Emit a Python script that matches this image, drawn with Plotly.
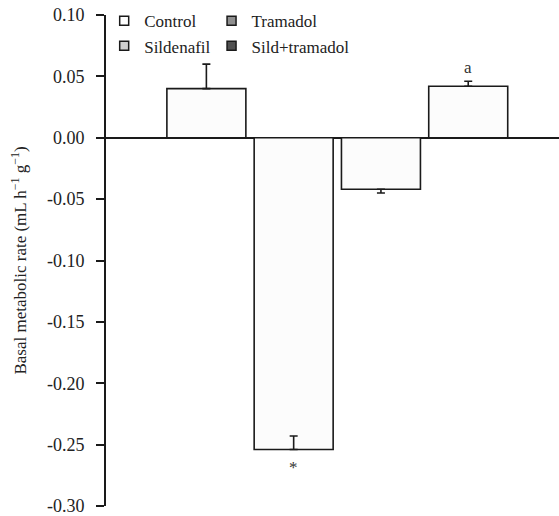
import plotly.graph_objects as go

# Group means and SEM of basal metabolic rate
groups = ["Control", "Sildenafil", "Tramadol", "Sild+tramadol"]
means = [0.040, -0.254, -0.042, 0.042]
err_plus = [0.020, 0.011, 0.000, 0.004]
err_minus = [0.000, 0.000, 0.003, 0.000]
legend_colors = ["#ffffff", "#cfcfcf", "#8f8f8f", "#505050"]
legend_column = ["legend", "legend", "legend2", "legend2"]
marks = ["", "*", "", "a"]

y_ticks = [0.10, 0.05, 0.00, -0.05, -0.10, -0.15, -0.20, -0.25, -0.30]
y_ticktext = ["0.10", "0.05", "0.00", "-0.05", "-0.10", "-0.15", "-0.20", "-0.25", "-0.30"]

FONT = "Liberation Serif, Times New Roman, serif"

fig = go.Figure()

fig.add_trace(go.Bar(
    x=list(range(len(groups))),
    y=means,
    width=0.905,
    marker=dict(color="#fcfcfc", line=dict(color="#1a1a1a", width=1.6)),
    error_y=dict(type="data", symmetric=False, array=err_plus, arrayminus=err_minus,
                 color="#1a1a1a", thickness=1.6, width=4),
    showlegend=False,
))

# legend swatches, two columns
for name, col, leg in zip(groups, legend_colors, legend_column):
    fig.add_trace(go.Scatter(
        x=[None], y=[None], mode="markers", name=name, legend=leg,
        marker=dict(symbol="square", size=9, color=col,
                    line=dict(color="#1a1a1a", width=1.5)),
    ))

# significance marks
for i, m in enumerate(marks):
    if not m:
        continue
    if means[i] < 0:
        fig.add_annotation(x=i, y=means[i], text=m, showarrow=False,
                           yanchor="top", yshift=-6,
                           font=dict(family=FONT, size=17, color="#333"))
    else:
        fig.add_annotation(x=i, y=means[i] + err_plus[i], text=m, showarrow=False,
                           yanchor="bottom", yshift=2,
                           font=dict(family=FONT, size=17, color="#333"))

legend_style = dict(orientation="v", yanchor="top", xanchor="left",
                    font=dict(family=FONT, size=17, color="#222"),
                    bgcolor="rgba(0,0,0,0)", itemwidth=30, traceorder="normal",
                    tracegroupgap=0)

fig.update_layout(
    width=559, height=516,
    margin=dict(l=106, r=0, t=15, b=10),
    paper_bgcolor="white", plot_bgcolor="white",
    font=dict(family=FONT, size=17, color="#222"),
    legend=dict(x=-0.004, y=1.024, **legend_style),
    legend2=dict(x=0.233, y=1.024, **legend_style),
    xaxis=dict(range=[-1.15, 4.04], showticklabels=False, showgrid=False,
               zeroline=False, showline=False, ticks=""),
    yaxis=dict(range=[-0.30, 0.10], tickvals=y_ticks, ticktext=y_ticktext,
               showgrid=False, zeroline=True, zerolinecolor="#1a1a1a", zerolinewidth=2,
               showline=True, linecolor="#1a1a1a", linewidth=2,
               ticks="outside", ticklen=8, tickwidth=2, tickcolor="#1a1a1a",
               ticklabelstandoff=8, ticklabeloverflow="allow",
               tickfont=dict(family=FONT, size=18, color="#222"),
               title=dict(text="Basal metabolic rate (mL h<sup>−1</sup> g<sup>−1</sup>)",
                          font=dict(family=FONT, size=17, color="#222"), standoff=16)),
)

fig.write_html("out.html")
